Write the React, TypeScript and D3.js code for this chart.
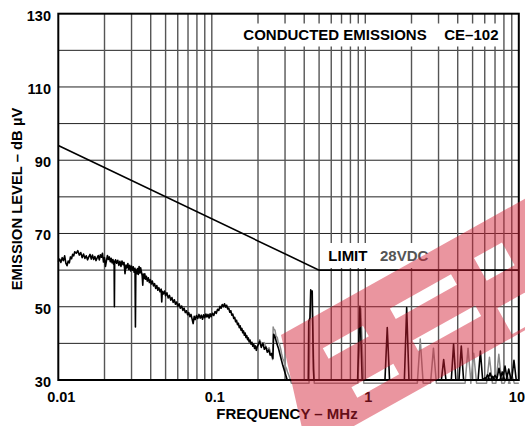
import * as d3 from "d3";

type Pt = [number, number];

// axis ticks
const yLabels = [30, 50, 70, 90, 110, 130];
const yGrid = [40, 50, 60, 70, 80, 90, 100, 110, 120];
const xLabels = [0.01, 0.1, 1, 10];
const xLabelText = ["0.01", "0.1", "1", "10"];
const decades = [0.01, 0.1, 1];
const minor = [2, 3, 4, 5, 6, 7, 8, 9];

// CE-102 limit, 28VDC
const limitFreq = [0.01, 0.5, 10];
const limitDb = [94, 60, 60];

// measured broadband emission (black trace), MHz / dBuV
const lowBand: Pt[] = [
  [0.0100, 62.3], [0.0102, 63.0], [0.0104, 62.1], [0.0106, 63.4], [0.0108, 62.6],
  [0.0110, 63.9], [0.0112, 61.9], [0.0114, 61.2], [0.0116, 62.5], [0.0118, 62.0],
  [0.0120, 63.6], [0.0122, 63.1], [0.0124, 64.3], [0.0126, 63.9], [0.0128, 65.0],
  [0.0131, 64.6], [0.0134, 65.3], [0.0137, 64.1], [0.0140, 64.8], [0.0143, 63.4],
  [0.0146, 64.4], [0.0149, 63.2], [0.0152, 63.9], [0.0155, 62.8], [0.0158, 63.6],
  [0.0161, 64.3], [0.0164, 63.0], [0.0167, 64.1], [0.0170, 62.9], [0.0173, 63.7],
  [0.0176, 62.6], [0.0179, 63.3], [0.0182, 64.0], [0.0185, 62.8], [0.0188, 64.2],
  [0.0191, 63.5], [0.0194, 64.6], [0.0197, 62.2], [0.0200, 63.4], [0.0203, 61.0],
  [0.0206, 62.6], [0.0209, 64.0], [0.0212, 62.9], [0.0215, 63.6], [0.0218, 62.3],
  [0.0221, 63.2], [0.0224, 62.0], [0.0227, 62.9], [0.0229, 61.6], [0.0231, 62.4],
  [0.0232, 50.0], [0.0233, 61.8], [0.0236, 62.8], [0.0240, 61.9], [0.0244, 62.7],
  [0.0248, 61.3], [0.0252, 62.4], [0.0256, 61.0], [0.0260, 62.5], [0.0264, 61.5],
  [0.0268, 62.1], [0.0272, 59.0], [0.0276, 61.4], [0.0280, 60.6], [0.0284, 61.8],
  [0.0288, 60.2], [0.0292, 61.3], [0.0296, 59.8], [0.0300, 61.1], [0.0304, 60.0],
  [0.0308, 60.9], [0.0312, 59.4], [0.0316, 60.5], [0.0318, 44.5], [0.0320, 60.1],
  [0.0324, 59.0], [0.0328, 60.4], [0.0332, 58.8], [0.0336, 61.0], [0.0340, 59.2],
  [0.0344, 60.6], [0.0348, 59.5], [0.0352, 58.4], [0.0355, 55.9], [0.0358, 58.9],
  [0.0362, 57.7], [0.0366, 59.0], [0.0370, 57.5], [0.0375, 58.3], [0.0380, 57.0],
  [0.0386, 57.9], [0.0392, 56.6], [0.0398, 57.4], [0.0404, 56.2], [0.0410, 57.0],
  [0.0417, 55.7], [0.0424, 56.3], [0.0431, 55.0], [0.0438, 55.8], [0.0445, 54.5],
  [0.0452, 55.2], [0.0460, 54.1], [0.0468, 54.8], [0.0472, 51.3], [0.0476, 54.2],
  [0.0484, 53.5], [0.0492, 54.3], [0.0500, 53.0], [0.0510, 53.8], [0.0520, 52.4],
  [0.0530, 53.1], [0.0540, 51.8], [0.0550, 52.5], [0.0560, 51.2], [0.0570, 51.9],
  [0.0580, 50.7], [0.0590, 51.3], [0.0600, 50.1], [0.0612, 50.8], [0.0624, 49.6],
  [0.0636, 50.2], [0.0648, 49.0], [0.0660, 49.6], [0.0672, 48.4], [0.0684, 48.9],
  [0.0696, 47.8], [0.0708, 48.4], [0.0720, 47.3], [0.0732, 47.9], [0.0744, 46.6],
  [0.0756, 45.4], [0.0768, 47.4], [0.0780, 46.5], [0.0795, 47.6], [0.0810, 46.8],
  [0.0825, 47.9], [0.0840, 46.9], [0.0855, 47.7], [0.0870, 46.6], [0.0885, 47.8],
  [0.0900, 47.0], [0.0915, 48.0], [0.0930, 47.2], [0.0945, 47.9], [0.0960, 46.9],
  [0.0975, 48.1], [0.0990, 47.3], [0.1010, 48.2], [0.1030, 47.6], [0.1050, 48.7],
  [0.1070, 48.2], [0.1090, 49.3], [0.1110, 49.0], [0.1130, 50.1], [0.1150, 49.6],
  [0.1170, 50.6], [0.1190, 50.0], [0.1210, 50.8], [0.1230, 49.9], [0.1250, 50.4],
  [0.1270, 49.4], [0.1290, 49.6], [0.1310, 48.5], [0.1330, 48.9], [0.1350, 47.7],
  [0.1370, 48.0], [0.1390, 46.8], [0.1410, 47.1], [0.1430, 45.9], [0.1450, 46.3],
  [0.1470, 45.1], [0.1490, 45.5], [0.1510, 44.3], [0.1530, 44.8], [0.1550, 43.6],
  [0.1570, 44.1], [0.1590, 42.9], [0.1610, 43.4], [0.1630, 42.2], [0.1650, 42.8],
  [0.1670, 41.6], [0.1690, 42.1], [0.1710, 41.0], [0.1730, 41.5], [0.1750, 40.4],
  [0.1775, 40.9], [0.1800, 39.8], [0.1825, 40.3], [0.1850, 39.2], [0.1875, 39.8],
  [0.1900, 38.6], [0.1925, 39.3], [0.1950, 38.1], [0.1975, 39.0], [0.2000, 39.5],
  [0.2050, 40.6], [0.2100, 38.9], [0.2150, 40.1], [0.2200, 38.4], [0.2250, 39.0],
  [0.2300, 37.6], [0.2350, 38.2], [0.2400, 36.8], [0.2450, 37.2], [0.2500, 35.9],
  [0.2530, 42.5], [0.2580, 41.8], [0.2650, 40.0], [0.2720, 38.6], [0.2800, 36.5],
  [0.2900, 34.0], [0.3000, 32.0], [0.3100, 30.0],
  [0.4250, 30.0], [0.4280, 46.0], [0.4360, 47.0], [0.4410, 54.6], [0.4460, 53.6],
  [0.4510, 54.3], [0.4590, 33.0], [0.4630, 30.0],
];
const blackSpikes: Pt[] = [
  [0.922, 50.1], [1.39, 44.3], [1.86, 49.8], [3.24, 35.6], [3.76, 39.8],
  [4.22, 39.3], [5.62, 37.9], [6.02, 30.6], [6.25, 31.4], [6.5, 31.9],
  [6.75, 31.0], [7.0, 31.3], [7.43, 33.2], [7.8, 32.2], [8.13, 33.8],
  [8.6, 33.0], [9.3, 35.4],
];

// second sweep (grey trace)
const greyStart: Pt[] = [
  [0.2000, 40.4], [0.2050, 41.0], [0.2120, 39.6], [0.2200, 40.2], [0.2280, 38.4],
  [0.2360, 38.8], [0.2440, 36.9], [0.2490, 35.6], [0.2510, 44.5], [0.2540, 43.8],
  [0.2580, 43.6], [0.2620, 42.0], [0.2670, 41.6], [0.2710, 40.2], [0.2760, 39.8],
  [0.2810, 38.5], [0.2850, 37.2], [0.2900, 35.8], [0.2950, 35.2], [0.3000, 33.9],
  [0.3060, 33.2], [0.3120, 32.0], [0.3180, 31.3], [0.3240, 30.2], [0.3300, 29.1],
  [0.4300, 29.1], [0.4370, 46.4], [0.4440, 54.0], [0.4500, 52.4], [0.4570, 41.0],
  [0.4650, 29.1],
];
const greySpikes: Pt[] = [
  [0.935, 49.5], [2.28, 41.2], [2.78, 38.7], [4.67, 38.7], [5.08, 37.3],
  [6.44, 36.2], [7.41, 37.0], [8.4, 31.2], [8.95, 31.8],
];

const W = 525;
const H = 426;
const font = "'Liberation Sans', Arial, Helvetica, sans-serif";

const x = d3.scaleLog().domain([0.01, 10]).range([58.3, 518.8]);
const y = d3.scaleLinear().domain([30, 130]).range([380, 13.7]);

function withSpikes(start: Pt[], spikes: Pt[], floor: number, w: number): Pt[] {
  const pts: Pt[] = [...start];
  spikes.forEach(([f, p]) => {
    pts.push([f / w, floor], [f, p], [f * w, floor]);
  });
  pts.push([10, floor]);
  return pts;
}

const line = d3.line<Pt>().x(d => x(d[0])).y(d => y(d[1]));

// watermark band: corners and cut-outs in band coords (along, across)
const bandOuter: Pt[] = [[0, 0], [400, 0], [400, 115], [-34, 115]];
const bandHoles = [
  [30, 32, 46, 12], [36, 80, 48, 12], [108, 30, 70, 12],
  [112, 69, 72, 12], [206, 27, 32, 26], [202, 82, 34, 30],
];

function watermark(): string {
  const a = (29.2 * Math.PI) / 180;
  const c = Math.cos(a);
  const s = Math.sin(a);
  const g = (u: number, v: number): Pt => [281 + u * c + v * s, 335 - u * s + v * c];
  const p = d3.path();
  const ring = (pts: Pt[]) => {
    pts.forEach(([u, v], i) => {
      const [px, py] = g(u, v);
      if (i) p.lineTo(px, py); else p.moveTo(px, py);
    });
    p.closePath();
  };
  ring(bandOuter);
  bandHoles.forEach(([u, v, w, h]) => ring([[u, v], [u + w, v], [u + w, v + h], [u, v + h]]));
  return p.toString();
}

export default function App() {
  const black = withSpikes(lowBand, blackSpikes, 30, 1.035);
  const grey = withSpikes(greyStart, greySpikes, 29.1, 1.045);
  const limit = limitFreq.map((f, i) => [f, limitDb[i]] as Pt);
  const verticals = decades.flatMap(d => minor.map(m => d * m)).concat([0.1, 1]);

  return (
    <svg width={W} height={H} style={{ position: "absolute", left: 0, top: 0, background: "#fff" }}>
      <rect width={W} height={H} fill="#fff" />
      <g>
        {yGrid.map(v => (
          <line key={v} x1={x(0.01)} x2={x(10)} y1={y(v)} y2={y(v)} stroke="#222" strokeWidth={1} />
        ))}
        {verticals.map(f => (
          <line key={f} x1={x(f)} x2={x(f)} y1={y(130)} y2={y(30)} stroke="#555" strokeWidth={1.4} />
        ))}
      </g>
      <rect x={240} y={23.5} width={262} height={23} fill="#fff" />
      <rect x={323} y={243} width={110} height={25} fill="#fff" />
      <path d={line(limit) ?? ""} fill="none" stroke="#000" strokeWidth={1.6} />
      <path d={line(grey) ?? ""} fill="none" stroke="#8a8a8a" strokeWidth={1.5} strokeLinejoin="round" />
      <path d={line(black) ?? ""} fill="none" stroke="#000" strokeWidth={1.6} strokeLinejoin="round" />
      <rect x={x(0.01)} y={y(130)} width={x(10) - x(0.01)} height={y(30) - y(130)}
        fill="none" stroke="#000" strokeWidth={2} />
      <g fontFamily={font} fontWeight="bold">
        {yLabels.map(v => (
          <text key={v} x={51} y={y(v) + 7} textAnchor="end" fontSize={14.5}>{v}</text>
        ))}
        {xLabels.map((v, i) => (
          <text key={v} x={i === 3 ? 525 : x(v) + 3} y={401.5} textAnchor={i === 3 ? "end" : "middle"}
            fontSize={14.5}>{xLabelText[i]}</text>
        ))}
        <text x={287} y={418.5} textAnchor="middle" fontSize={15}>FREQUENCY – MHz</text>
        <text transform="translate(21.5,199) rotate(-90)" textAnchor="middle" fontSize={14.8}>
          EMISSION LEVEL – dB µV
        </text>
        <text x={243.3} y={40} fontSize={15}>CONDUCTED EMISSIONS</text>
        <text x={498.5} y={40} textAnchor="end" fontSize={15}>CE–102</text>
        <text x={328.3} y={261} fontSize={15}>LIMIT</text>
        <text x={380} y={261} fontSize={15} fill="#555">28VDC</text>
      </g>
      <path d={watermark()} fill="rgb(210,30,50)" fillOpacity={0.47} fillRule="evenodd" />
    </svg>
  );
}
